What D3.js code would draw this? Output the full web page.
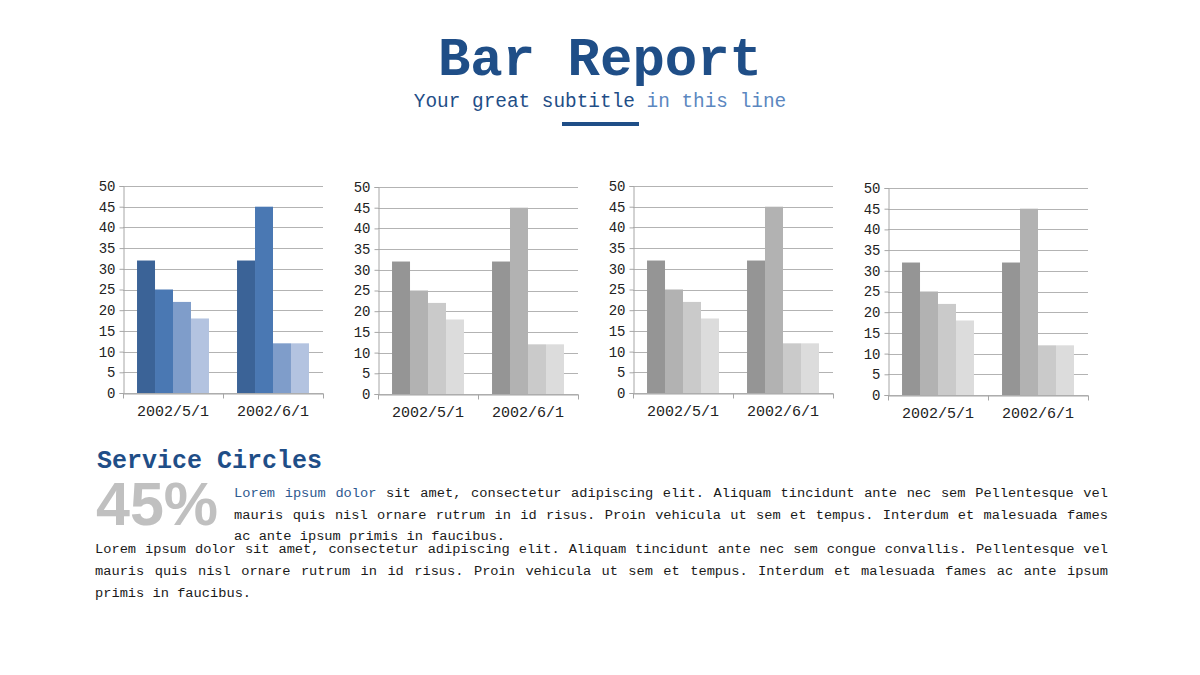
<!DOCTYPE html>
<html>
<head>
<meta charset="utf-8">
<script src="https://cdn.jsdelivr.net/npm/d3@7"></script>
<style>
  html, body { margin: 0; padding: 0; background: #ffffff; }
  svg { display: block; }
  text { font-family: "Liberation Mono", "DejaVu Sans Mono", monospace; }
</style>
</head>
<body>
<svg id="root" width="1200" height="675"></svg>
<script>
// ---- data ----
const categories = ["2002/5/1", "2002/6/1"];
const seriesNames = ["S1", "S2", "S3", "S4"];
const chart1Values = [[32, 25, 22, 18], [32, 45, 12, 12]];
const chart2Values = [[32, 25, 22, 18], [32, 45, 12, 12]];
const chart3Values = [[32, 25, 22, 18], [32, 45, 12, 12]];
const chart4Values = [[32, 25, 22, 18], [32, 45, 12, 12]];
const yTicks = [0, 5, 10, 15, 20, 25, 30, 35, 40, 45, 50];

const blueColors = ["#3b6397", "#4a78b3", "#7f9dca", "#b3c3e0"];
const grayColors = ["#959595", "#b2b2b2", "#cacaca", "#dcdcdc"];

const titleText = "Bar Report";
const subtitleDark = "Your great subtitle";
const subtitleLight = " in this line";
const sectionTitle = "Service Circles";
const bigNumber = "45%";
const para1Lead = "Lorem ipsum dolor";
const para1Lines = [
  " sit amet, consectetur adipiscing elit. Aliquam tincidunt ante nec sem Pellentesque vel",
  "mauris quis nisl ornare rutrum in id risus. Proin vehicula ut sem et tempus. Interdum et malesuada fames",
  "ac ante ipsum primis in faucibus."
];
const para2Lines = [
  "Lorem ipsum dolor sit amet, consectetur adipiscing elit. Aliquam tincidunt ante nec sem congue convallis. Pellentesque vel",
  "mauris quis nisl ornare rutrum in id risus. Proin vehicula ut sem et tempus. Interdum et malesuada fames ac ante ipsum",
  "primis in faucibus."
];

const svg = d3.select("#root");
const darkBlue = "#1f4e87";
const lightBlue = "#5b87c0";

// ---- header ----
svg.append("text").attr("x", 600).attr("y", 75).attr("text-anchor", "middle")
  .attr("font-size", 54).attr("font-weight", "bold").attr("fill", darkBlue).text(titleText);
const sub = svg.append("text").attr("x", 600).attr("y", 107).attr("text-anchor", "middle")
  .attr("font-size", 19.4).style("white-space", "pre");
sub.append("tspan").attr("fill", darkBlue).text(subtitleDark);
sub.append("tspan").attr("fill", lightBlue).text(subtitleLight);
svg.append("rect").attr("x", 562).attr("y", 122).attr("width", 77).attr("height", 4).attr("fill", darkBlue);

// ---- charts ----
const charts = [
  { values: chart1Values, colors: blueColors, left: 123, bottom: 393 },
  { values: chart2Values, colors: grayColors, left: 378, bottom: 394 },
  { values: chart3Values, colors: grayColors, left: 633, bottom: 393 },
  { values: chart4Values, colors: grayColors, left: 888, bottom: 395 }
];
const plotW = 200, plotH = 207;

charts.forEach(c => {
  const g = svg.append("g").attr("transform", `translate(${c.left},${c.bottom - plotH})`);
  const y = d3.scaleLinear().domain([0, 50]).range([plotH, 0]);
  const x0 = d3.scaleBand().domain(categories).range([0, plotW]).padding(0);
  const x1 = d3.scaleBand().domain(seriesNames).range([0, x0.bandwidth()]).paddingInner(0).paddingOuter(0.78);

  // gridlines
  g.append("g").selectAll("line").data(yTicks).join("line")
    .attr("x1", 0).attr("x2", plotW)
    .attr("y1", d => Math.round(y(d)) + 0.5).attr("y2", d => Math.round(y(d)) + 0.5)
    .attr("stroke", "#b3b3b3").attr("stroke-width", 1);

  // bars
  const groups = g.append("g").selectAll("g").data(categories).join("g")
    .attr("transform", d => `translate(${x0(d)},0)`);
  groups.each(function(cat, ci) {
    d3.select(this).selectAll("rect").data(c.values[ci]).join("rect")
      .attr("x", (d, i) => x1(seriesNames[i]))
      .attr("width", x1.bandwidth())
      .attr("y", d => y(d))
      .attr("height", d => plotH - y(d))
      .attr("fill", (d, i) => c.colors[i]);
  });

  // y axis
  const yAxis = d3.axisLeft(y).tickValues(yTicks).tickSize(4).tickPadding(4);
  const ya = g.append("g").attr("transform", "translate(0.5,0)").call(yAxis);
  ya.select(".domain").attr("stroke", "#a6a6a6");
  ya.selectAll(".tick line").attr("stroke", "#a6a6a6");
  ya.selectAll("text").attr("font-family", "Liberation Mono").attr("font-size", 14).attr("fill", "#222");

  // x axis
  const xAxis = d3.axisBottom(x0).tickSize(0).tickPadding(12);
  const xa = g.append("g").attr("transform", `translate(0,${plotH + 0.5})`).call(xAxis);
  xa.select(".domain").attr("stroke", "#a6a6a6");
  xa.selectAll("text").attr("font-family", "Liberation Mono").attr("font-size", 15).attr("fill", "#222");
  // category separators
  const seps = [0, ...categories.map(cat => x0(cat) + x0.bandwidth())];
  xa.selectAll(".sep").data(seps).join("line").attr("class", "sep")
    .attr("x1", d => d + 0.5).attr("x2", d => d + 0.5).attr("y1", 0).attr("y2", 5)
    .attr("stroke", "#a6a6a6");
});

// ---- bottom section ----
svg.append("text").attr("x", 97).attr("y", 468).attr("font-size", 25)
  .attr("font-weight", "bold").attr("fill", darkBlue).text(sectionTitle);
svg.append("text").attr("x", 96).attr("y", 525)
  .style("font-family", "'Liberation Sans', Arial, sans-serif")
  .attr("font-size", 61).attr("font-weight", "bold").attr("fill", "#c0c0c0").text(bigNumber);

const fs = 13.7;
function justifyLine(t, target) {
  const text = t.node();
  const natural = text.getComputedTextLength();
  const full = text.textContent;
  const spaces = (full.match(/ /g) || []).length;
  if (spaces > 0 && target > natural) t.attr("word-spacing", (target - natural) / spaces);
}

// paragraph 1
const p1Baselines = [497, 518.5, 540];
para1Lines.forEach((line, i) => {
  const t = svg.append("text").attr("x", 234).attr("y", p1Baselines[i]).attr("font-size", fs)
    .attr("fill", "#1a1a1a").style("white-space", "pre");
  if (i === 0) {
    t.append("tspan").attr("fill", "#2f5a90").text(para1Lead);
  }
  t.append("tspan").text(line);
  if (i < para1Lines.length - 1) justifyLine(t, 1108 - 234);
});

// paragraph 2
const p2Baselines = [553, 575, 596.5];
para2Lines.forEach((line, i) => {
  const t = svg.append("text").attr("x", 95).attr("y", p2Baselines[i]).attr("font-size", fs)
    .attr("fill", "#1a1a1a").style("white-space", "pre").text(line);
  if (i < para2Lines.length - 1) justifyLine(t, 1108 - 95);
});
</script>
</body>
</html>
